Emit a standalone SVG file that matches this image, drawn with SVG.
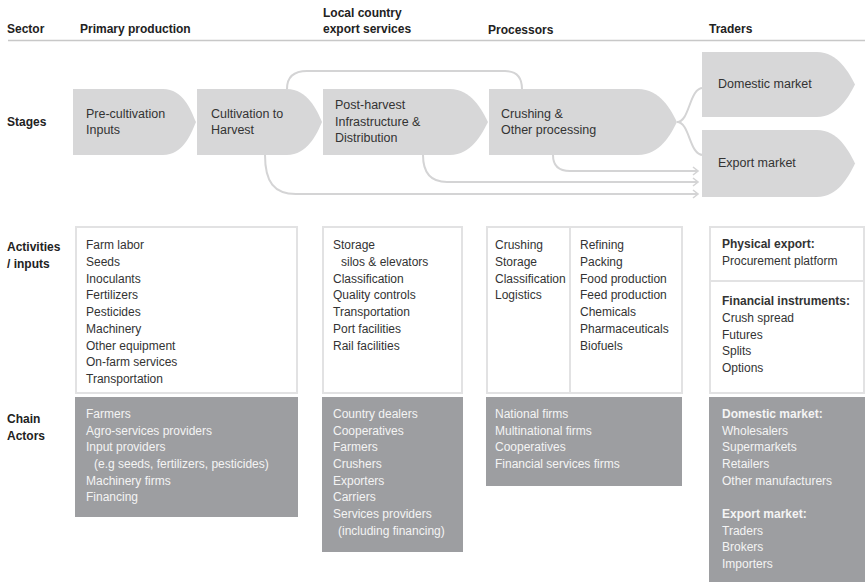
<svg xmlns="http://www.w3.org/2000/svg" width="865" height="582" viewBox="0 0 865 582">
<defs>
<style>
text{font-family:"Liberation Sans",Arial,sans-serif;font-size:12px;fill:#333}
.h{font-weight:bold;font-size:12px;fill:#222}
.st{font-size:12.5px;fill:#333}
.stage{fill:#d7d7d8}
.act{fill:#fff;stroke:#e2e2e3;stroke-width:2}
.actor{fill:#9d9ea1}
.actor text{fill:#f4f4f4}
.actor text.b{font-weight:bold}
.con{fill:none;stroke:#d4d4d5;stroke-width:2}
</style>
<marker id="ah" viewBox="0 0 8 10" refX="6" refY="5" markerWidth="8" markerHeight="10" markerUnits="userSpaceOnUse" orient="auto">
<path d="M1,1 L6,5 L1,9" fill="none" stroke="#d4d4d5" stroke-width="1.6"/>
</marker>
</defs>
<rect width="865" height="582" fill="#fff"/>

<g id="header">
<text class="h" x="7" y="33">Sector</text>
<text class="h" x="80" y="33">Primary production</text>
<text class="h" x="323" y="17">Local country</text>
<text class="h" x="323" y="33">export services</text>
<text class="h" x="488" y="34">Processors</text>
<text class="h" x="709" y="33">Traders</text>
<line x1="8" y1="40.5" x2="865" y2="40.5" stroke="#c8c8c8" stroke-width="1.5"/>
</g>

<g id="row-labels">
<text class="h" x="7" y="126">Stages</text>
<text class="h" x="7" y="251">Activities</text>
<text class="h" x="7" y="268">/ inputs</text>
<text class="h" x="7" y="423">Chain</text>
<text class="h" x="7" y="440">Actors</text>
</g>

<g id="connectors">
<path class="con" d="M287,89 C287,77 293,71 307,71 H505 C517,71 522,78 522,89"/>
<path class="con" d="M265,155 C265,182 274,194 296,194 H698" marker-end="url(#ah)"/>
<path class="con" d="M423,155 C423,172 430,182 447,182 H698" marker-end="url(#ah)"/>
<path class="con" d="M553,155 C553,165 558,171 570,171 H698" marker-end="url(#ah)"/>
<path class="con" d="M677,122 C690,122 689,88 703,88"/>
<path class="con" d="M677,122 C690,122 689,155 703,155"/>
</g>

<g id="stage-precultivation">
<path class="stage" d="M73,89 H163 C183,89 191,110 196,122 C191,134 183,155 163,155 H73 Z"/>
<text class="st" x="86" y="118">Pre-cultivation</text>
<text class="st" x="86" y="134">Inputs</text>
</g>
<g id="stage-cultivation">
<path class="stage" d="M197,89 H287 C307,89 317,110 322,122 C317,134 307,155 287,155 H197 Z"/>
<text class="st" x="211" y="118">Cultivation to</text>
<text class="st" x="211" y="134">Harvest</text>
</g>
<g id="stage-postharvest">
<path class="stage" d="M323,89 H450 C471,89 482,110 488,122 C482,134 471,155 450,155 H323 Z"/>
<text class="st" x="335" y="109">Post-harvest</text>
<text class="st" x="335" y="126">Infrastructure &amp;</text>
<text class="st" x="335" y="142">Distribution</text>
</g>
<g id="stage-crushing">
<path class="stage" d="M489,89 H638 C660,89 671,110 677,122 C671,134 660,155 638,155 H489 Z"/>
<text class="st" x="501" y="118">Crushing &amp;</text>
<text class="st" x="501" y="134">Other processing</text>
</g>
<g id="stage-domestic">
<path class="stage" d="M702,52 H817 C838,52 849,73 855,84.5 C849,96 838,117 817,117 H702 Z"/>
<text class="st" x="718" y="88">Domestic market</text>
</g>
<g id="stage-export">
<path class="stage" d="M702,130 H817 C838,130 849,151 855,163.5 C849,176 838,197 817,197 H702 Z"/>
<text class="st" x="718" y="167">Export market</text>
</g>

<g id="act-primary">
<rect class="act" x="76" y="227" width="221" height="166"/>
<text x="86" y="249">Farm labor</text>
<text x="86" y="266">Seeds</text>
<text x="86" y="283">Inoculants</text>
<text x="86" y="299">Fertilizers</text>
<text x="86" y="316">Pesticides</text>
<text x="86" y="333">Machinery</text>
<text x="86" y="350">Other equipment</text>
<text x="86" y="366">On-farm services</text>
<text x="86" y="383">Transportation</text>
</g>
<g id="act-local">
<rect class="act" x="323" y="227" width="139" height="166"/>
<text x="333" y="249">Storage</text>
<text x="341" y="266">silos &amp; elevators</text>
<text x="333" y="283">Classification</text>
<text x="333" y="299">Quality controls</text>
<text x="333" y="316">Transportation</text>
<text x="333" y="333">Port facilities</text>
<text x="333" y="350">Rail facilities</text>
</g>
<g id="act-processors">
<rect class="act" x="487" y="227" width="195" height="166"/>
<line x1="570" y1="227" x2="570" y2="393" stroke="#e2e2e3" stroke-width="2"/>
<text x="495" y="249">Crushing</text>
<text x="495" y="266">Storage</text>
<text x="495" y="283">Classification</text>
<text x="495" y="299">Logistics</text>
<text x="580" y="249">Refining</text>
<text x="580" y="266">Packing</text>
<text x="580" y="283">Food production</text>
<text x="580" y="299">Feed production</text>
<text x="580" y="316">Chemicals</text>
<text x="580" y="333">Pharmaceuticals</text>
<text x="580" y="350">Biofuels</text>
</g>
<g id="act-traders">
<rect class="act" x="710" y="227" width="154" height="166"/>
<line x1="710" y1="281" x2="864" y2="281" stroke="#e2e2e3" stroke-width="2"/>
<text x="722" y="248" font-weight="bold">Physical export:</text>
<text x="722" y="265">Procurement platform</text>
<text x="722" y="305" font-weight="bold">Financial instruments:</text>
<text x="722" y="322">Crush spread</text>
<text x="722" y="339">Futures</text>
<text x="722" y="355">Splits</text>
<text x="722" y="372">Options</text>
</g>

<g id="actors-primary" class="actor">
<rect x="75" y="397" width="223" height="120"/>
<text x="86" y="418">Farmers</text>
<text x="86" y="435">Agro-services providers</text>
<text x="86" y="451">Input providers</text>
<text x="94" y="468">(e.g seeds, fertilizers, pesticides)</text>
<text x="86" y="485">Machinery firms</text>
<text x="86" y="501">Financing</text>
</g>
<g id="actors-local" class="actor">
<rect x="322" y="397" width="141" height="155"/>
<text x="333" y="418">Country dealers</text>
<text x="333" y="435">Cooperatives</text>
<text x="333" y="451">Farmers</text>
<text x="333" y="468">Crushers</text>
<text x="333" y="485">Exporters</text>
<text x="333" y="501">Carriers</text>
<text x="333" y="518">Services providers</text>
<text x="338" y="535">(including financing)</text>
</g>
<g id="actors-processors" class="actor">
<rect x="486" y="397" width="196" height="89"/>
<text x="495" y="418">National firms</text>
<text x="495" y="435">Multinational firms</text>
<text x="495" y="451">Cooperatives</text>
<text x="495" y="468">Financial services firms</text>
</g>
<g id="actors-traders" class="actor">
<rect x="709" y="397" width="156" height="185"/>
<text class="b" x="722" y="418">Domestic market:</text>
<text x="722" y="435">Wholesalers</text>
<text x="722" y="451">Supermarkets</text>
<text x="722" y="468">Retailers</text>
<text x="722" y="485">Other manufacturers</text>
<text class="b" x="722" y="518">Export market:</text>
<text x="722" y="535">Traders</text>
<text x="722" y="551">Brokers</text>
<text x="722" y="568">Importers</text>
</g>
</svg>
